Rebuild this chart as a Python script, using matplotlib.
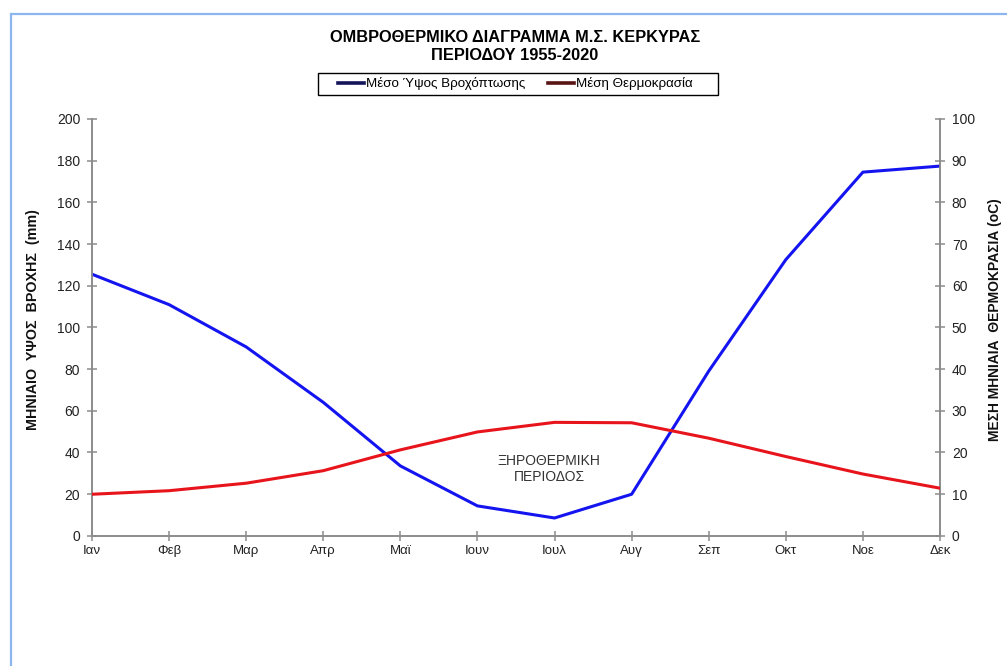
import matplotlib
matplotlib.use("Agg")
import matplotlib.pyplot as plt
from matplotlib.lines import Line2D
from matplotlib.patches import Rectangle

plt.rcParams['font.family'] = ['Liberation Sans', 'DejaVu Sans']

months = ['Ιαν', 'Φεβ', 'Μαρ', 'Απρ', 'Μαϊ', 'Ιουν', 'Ιουλ', 'Αυγ', 'Σεπ', 'Οκτ', 'Νοε', 'Δεκ']
rain_mm = [125.5, 110.9, 90.6, 64.0, 33.5, 14.3, 8.5, 19.9, 79.0, 132.5, 174.5, 177.4]
temp_c = [9.95, 10.8, 12.6, 15.6, 20.6, 24.9, 27.2, 27.1, 23.4, 19.0, 14.8, 11.4]
left_ticks = list(range(0, 201, 20))
right_ticks = list(range(0, 101, 10))

title = 'ΟΜΒΡΟΘΕΡΜΙΚΟ ΔΙΑΓΡΑΜΜΑ Μ.Σ. ΚΕΡΚΥΡΑΣ\nΠΕΡΙΟΔΟΥ 1955-2020'
rain_label = 'Μέσο Ύψος Βροχόπτωσης'
temp_label = 'Μέση Θερμοκρασία'
left_ylabel = 'ΜΗΝΙΑΙΟ  ΥΨΟΣ  ΒΡΟΧΗΣ  (mm)'
right_ylabel = 'ΜΕΣΗ ΜΗΝΙΑΙΑ  ΘΕΡΜΟΚΡΑΣΙΑ (oC)'
annot = 'ΞΗΡΟΘΕΡΜΙΚΗ\nΠΕΡΙΟΔΟΣ'

W, H = 1007, 666
fig = plt.figure(figsize=(W / 100, H / 100), dpi=100)
fig.patch.set_facecolor('white')

# light blue frame
fig.patches.append(Rectangle((11 / W, -0.1), 1.2, 1 - 14 / H + 0.1,
                             transform=fig.transFigure, fill=False,
                             edgecolor='#8db5ee', linewidth=1.6))

left, right = 92 / W, 940 / W
bottom, top = 1 - 535.7 / H, 1 - 119 / H
ax = fig.add_axes([left, bottom, right - left, top - bottom])
ax2 = ax.twinx()

x = list(range(len(months)))
ax.plot(x, rain_mm, color='#1414f0', lw=2.2, zorder=3)
ax2.plot(x, temp_c, color='#e8141c', lw=2.2, zorder=3)

ax.set_xlim(0, len(months) - 1)
ax.set_ylim(0, 200)
ax2.set_ylim(0, 100)
ax.set_xticks(x)
ax.set_xticklabels(months)
ax.set_yticks(left_ticks)
ax2.set_yticks(right_ticks)

gray = '#8c8c8c'
for a in (ax, ax2):
    a.spines['top'].set_visible(False)
    for s in ('left', 'right', 'bottom'):
        a.spines[s].set_color(gray)
        a.spines[s].set_linewidth(1.2)
    a.tick_params(colors=gray, labelcolor='#222222', labelsize=10,
                  direction='inout', length=7, width=1.1)
ax.tick_params(axis='x', pad=3, labelsize=9.5)
ax.tick_params(axis='y', pad=5)
ax2.tick_params(axis='y', pad=5)

fig.text(33 / W, 1 - 320 / H, left_ylabel, rotation=90, ha='center', va='center',
         fontsize=10.3, fontweight='bold', color='#111111')
fig.text(995 / W, 1 - 320 / H, right_ylabel, rotation=90, ha='center', va='center',
         fontsize=10, fontweight='bold', color='#111111')

ax.text(5.93, 32, annot, ha='center', va='center', fontsize=10,
        color='#333333', linespacing=1.2)

fig.text(515 / W, 1 - 47 / H, title, ha='center', va='center', fontsize=11.8,
         fontweight='bold', linespacing=1.25)

# legend frame drawn separately for the wide side padding
fig.patches.append(Rectangle((318 / W, 1 - 95 / H), 400 / W, 22 / H,
                             transform=fig.transFigure, fill=False,
                             edgecolor='black', linewidth=1.0))
handles = [Line2D([], [], color='#14145a', lw=2.6),
           Line2D([], [], color='#5a1414', lw=2.6)]
leg = fig.legend(handles, [rain_label, temp_label], loc='center',
                 bbox_to_anchor=(515 / W, 1 - 84 / H), ncol=2, fontsize=9.6,
                 frameon=False, handlelength=2.0, handletextpad=0.1,
                 columnspacing=1.7, borderpad=0.0, borderaxespad=0)

fig.savefig('out.png', dpi=100, facecolor='white')
